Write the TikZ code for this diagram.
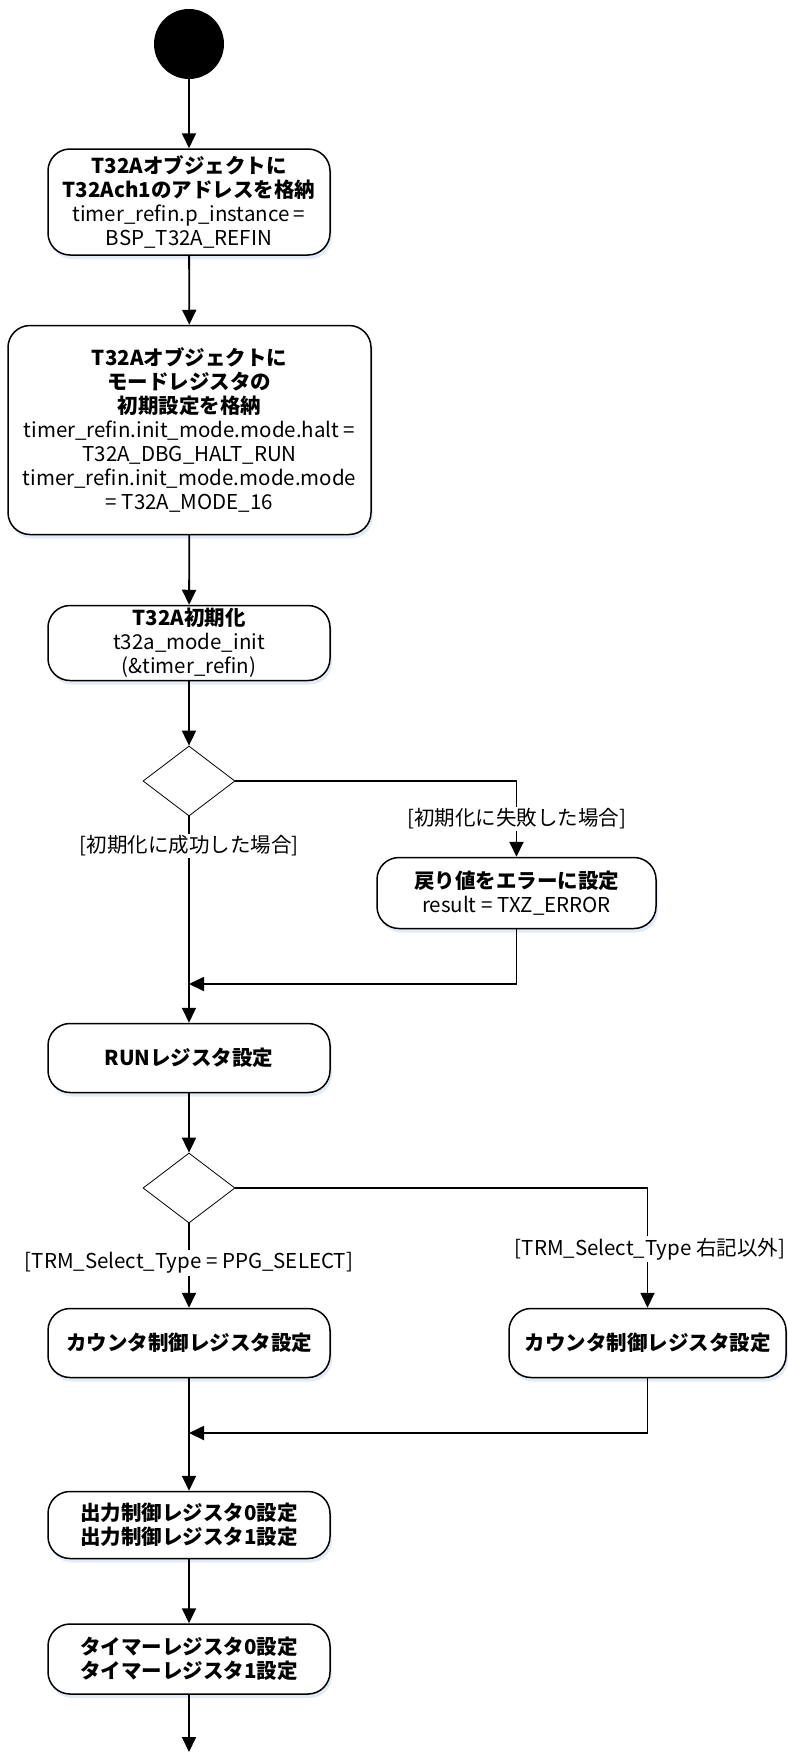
\documentclass[tikz,border=0pt]{standalone}
\usepackage{fontspec}
\setmainfont{Noto Sans CJK JP}
\usetikzlibrary{arrows.meta,shapes.geometric,shadows}

\def\boxFont{\fontsize{20.5}{24}\selectfont}

\begin{document}
\begin{tikzpicture}[x=1pt, y=-1pt, line cap=round,
		action/.style={draw, line width=1.5pt, rounded corners=22pt, fill=white, align=center,
			minimum width=282pt, minimum height=70pt, inner sep=0pt, font=\boxFont,
			drop shadow={shadow xshift=2pt, shadow yshift=-4pt, fill=cyan!40!blue, opacity=0.12}},
		choice/.style={draw, diamond, line width=0.8pt, minimum width=92pt, minimum height=70pt, inner sep=0pt},
		flow/.style={line width=1.8pt, -{Triangle[length=15pt,width=14pt]}},
		guard/.style={fill=white, inner sep=2pt, font=\boxFont}]
		\useasboundingbox (0,0) rectangle (787,1753);
		
		% initial node and storing steps
		\node[circle, fill=black, minimum size=70pt, inner sep=0pt] (start) at (189,44) {};
		\node[action, minimum height=106pt] (store) at (189,202)
			{\textbf{T32Aオブジェクトに}\\\textbf{T32Ach1のアドレスを格納}\\timer\_refin.p\_instance =\\BSP\_T32A\_REFIN};
		\node[action, minimum width=363pt, minimum height=209pt] (mode) at (189.5,430)
			{\textbf{T32Aオブジェクトに}\\\textbf{モードレジスタの}\\\textbf{初期設定を格納}\\timer\_refin.init\_mode.mode.halt =\\T32A\_DBG\_HALT\_RUN\\timer\_refin.init\_mode.mode.mode\\= T32A\_MODE\_16};
		\node[action, minimum height=75pt] (init) at (189,643)
			{\textbf{T32A初期化}\\t32a\_mode\_init\\(\&timer\_refin)};
		
		% first choice
		\node[choice] (initok) at (189,781) {};
		\node[action, minimum width=279pt, minimum height=71pt] (err) at (516.5,893)
			{\textbf{戻り値をエラーに設定}\\result = TXZ\_ERROR};
		\coordinate (joinA) at (189,984);
		\node[action, minimum height=69pt] (run) at (189,1058) {\textbf{RUNレジスタ設定}};
		
		% second choice
		\node[choice] (selType) at (189,1188) {};
		\node[action, minimum height=69pt] (cntPpg) at (189,1343) {\textbf{カウンタ制御レジスタ設定}};
		\node[action, minimum width=277pt, minimum height=69pt] (cntOther) at (647.5,1343) {\textbf{カウンタ制御レジスタ設定}};
		\coordinate (joinB) at (189,1433);
		\node[action, minimum height=67pt] (outCtrl) at (189,1525)
			{\textbf{出力制御レジスタ0設定}\\\textbf{出力制御レジスタ1設定}};
		\node[action, minimum height=70pt] (timerReg) at (189,1659)
			{\textbf{タイマーレジスタ0設定}\\\textbf{タイマーレジスタ1設定}};
		\coordinate (finish) at (189,1752);
		
		% connectors
		\draw[flow] (start) -- (store);
		\draw[flow] (store) -- (mode);
		\draw[flow] (mode) -- (init);
		\draw[flow] (init) -- (initok);
		\draw[flow] (initok.east) -| (err);
		\draw[flow] (initok.south) -- (run);
		\draw[flow] (err.south) |- (joinA);
		\draw[flow] (run) -- (selType);
		\draw[flow] (selType.east) -| (cntOther);
		\draw[flow] (selType.south) -- (cntPpg);
		\draw[flow] (cntOther.south) |- (joinB);
		\draw[flow] (cntPpg) -- (outCtrl);
		\draw[flow] (outCtrl) -- (timerReg);
		\draw[flow] (timerReg) -- (finish);
		
		% guards
		\node[guard] (failGuard) at (516.5,819) {[初期化に失敗した場合]};
		\node[guard] (okGuard) at (189,846) {[初期化に成功した場合]};
		\node[guard] (otherGuard) at (650,1249) {[TRM\_Select\_Type 右記以外]};
		\node[guard] (ppgGuard) at (189,1263) {[TRM\_Select\_Type = PPG\_SELECT]};
\end{tikzpicture}
\end{document}
